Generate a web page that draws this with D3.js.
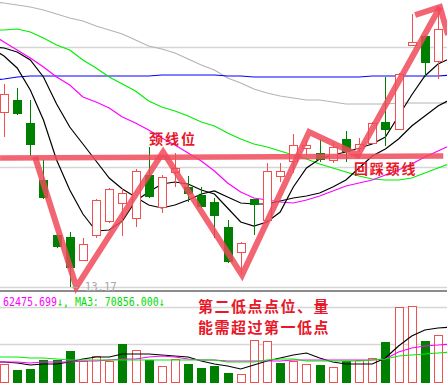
<!DOCTYPE html>
<html>
<head>
<meta charset="utf-8">
<script src="https://cdn.jsdelivr.net/npm/d3@7"></script>
<style>
  html, body { margin: 0; padding: 0; background: #fff; }
  svg { display: block; }
</style>
</head>
<body>
<div id="chart"></div>
<script>
// daily candles (34 sessions)
const openP  = [16.67, 16.91, 16.45, 15.31, 14.21, 14.17, 13.71, 14.21, 14.49, 14.85, 14.55, 15.41, 14.77, 15.47, 15.17, 15.01, 14.87, 14.37, 13.87, 14.93, 14.51, 15.39, 15.69, 15.95, 15.85, 15.71, 16.13, 15.95, 16.05, 16.47, 16.33, 18.01, 18.19, 17.69];
const highP  = [17.23, 17.15, 16.91, 15.71, 14.23, 14.27, 14.15, 14.93, 15.15, 15.15, 15.53, 15.97, 15.41, 15.85, 15.39, 15.17, 14.95, 14.51, 14.07, 14.93, 15.65, 15.65, 16.23, 16.11, 16.13, 16.07, 16.29, 16.15, 16.47, 17.37, 17.45, 18.63, 18.21, 18.75];
const lowP   = [16.17, 16.61, 15.79, 14.93, 13.95, 13.17, 13.69, 14.15, 14.45, 14.19, 14.37, 14.95, 14.65, 15.17, 14.87, 14.75, 14.15, 13.65, 13.41, 14.21, 14.49, 15.27, 15.45, 15.81, 15.67, 15.65, 15.67, 15.87, 16.03, 15.99, 16.31, 17.99, 17.37, 17.33];
const closeP = [17.03, 16.63, 16.01, 14.95, 13.97, 13.55, 14.03, 14.91, 15.13, 15.05, 15.49, 14.97, 15.37, 15.55, 15.03, 14.77, 14.59, 13.67, 14.05, 14.81, 15.49, 15.49, 16.01, 16.01, 15.71, 15.97, 15.87, 16.03, 16.45, 16.31, 17.43, 18.07, 17.65, 18.33];

// moving averages, sessions -1 .. 34 (lines run off both edges)
const ma5   = [17.95, 17.79, 17.55, 17.11, 16.51, 15.71, 15.11, 14.63, 14.29, 14.31, 14.49, 14.89, 15.07, 15.23, 15.27, 15.23, 15.11, 15.03, 14.75, 14.47, 14.39, 14.47, 14.67, 15.17, 15.55, 15.73, 15.81, 15.87, 15.95, 16.03, 16.17, 16.59, 17.01, 17.39, 17.63, 17.75];
const ma10  = [17.97, 17.95, 17.87, 17.71, 17.37, 16.83, 16.37, 16.03, 15.69, 15.35, 15.13, 14.97, 14.81, 14.75, 14.81, 14.91, 15.03, 15.09, 14.97, 14.85, 14.83, 14.83, 14.89, 14.95, 14.99, 15.05, 15.17, 15.31, 15.55, 15.79, 15.93, 16.13, 16.39, 16.59, 16.79, 16.93];
const ma20  = [18.23, 18.07, 17.91, 17.75, 17.57, 17.37, 17.21, 16.97, 16.87, 16.75, 16.57, 16.45, 16.31, 16.15, 16.01, 15.85, 15.69, 15.49, 15.25, 15.07, 14.95, 14.91, 14.87, 14.85, 14.91, 14.99, 15.09, 15.19, 15.25, 15.31, 15.41, 15.51, 15.63, 15.77, 15.89, 16.01];
const ma30  = [18.31, 18.31, 18.33, 18.27, 18.15, 18.01, 17.91, 17.71, 17.55, 17.37, 17.23, 17.09, 16.89, 16.77, 16.69, 16.59, 16.47, 16.39, 16.25, 16.13, 16.03, 15.97, 15.89, 15.81, 15.73, 15.63, 15.55, 15.47, 15.39, 15.33, 15.31, 15.31, 15.35, 15.45, 15.55, 15.65];
const ma60  = [17.31, 17.33, 17.37, 17.39, 17.39, 17.39, 17.39, 17.39, 17.39, 17.39, 17.39, 17.39, 17.39, 17.41, 17.41, 17.41, 17.41, 17.41, 17.39, 17.39, 17.37, 17.37, 17.37, 17.37, 17.37, 17.37, 17.37, 17.37, 17.37, 17.39, 17.39, 17.39, 17.39, 17.39, 17.39, 17.41];
const ma120 = [18.87, 18.85, 18.81, 18.77, 18.71, 18.63, 18.55, 18.49, 18.39, 18.31, 18.23, 18.11, 17.99, 17.93, 17.85, 17.73, 17.61, 17.51, 17.35, 17.25, 17.13, 17.05, 16.99, 16.95, 16.91, 16.91, 16.87, 16.83, 16.83, 16.83, 16.83, 16.85, 16.85, 16.85, 16.85, 16.85];

// volume and its averages
const volume = [32300, 22100, 23800, 39100, 39100, 54400, 37400, 45900, 37400, 66300, 56100, 39100, 28900, 40800, 32300, 25500, 28900, 17000, 15300, 73100, 71400, 34000, 37400, 32300, 30600, 27200, 37400, 39100, 42500, 69700, 129200, 130900, 71400, 81600];
const volUp  = [1, 0, 0, 0, 0, 0, 1, 1, 1, 0, 1, 0, 1, 1, 0, 0, 0, 0, 1, 1, 1, 0, 1, 1, 0, 1, 0, 1, 1, 0, 1, 1, 0, 1];
const volMa5  = [35700, 35700, 34000, 30600, 32300, 32300, 35700, 40800, 44200, 44200, 49300, 49300, 49300, 47600, 45900, 44200, 37400, 32300, 28900, 23800, 30600, 37400, 42500, 47600, 51000, 42500, 35700, 32300, 32300, 32300, 42500, 62900, 79900, 90100, 93500, 95200];
const volMa10 = [35700, 35700, 35700, 34000, 35700, 35700, 35700, 37400, 37400, 39100, 40800, 40800, 44200, 45900, 44200, 40800, 39100, 39100, 37400, 37400, 37400, 37400, 37400, 39100, 39100, 39100, 39100, 39100, 39100, 39100, 40800, 52700, 59500, 62900, 64600, 66300];
const volMa20 = [44200, 44200, 44200, 42500, 42500, 40800, 39100, 39100, 39100, 39100, 39100, 39100, 39100, 39100, 39100, 39100, 39100, 39100, 35700, 35700, 35700, 39100, 40800, 40800, 37400, 37400, 37400, 37400, 37400, 39100, 40800, 45900, 47600, 49300, 51000, 52700];

// grid levels
const priceGrid = [17.97, 15.57, 13.17];
const volGrid = [66300, 129200];

// hand-drawn pattern annotation (session index, price)
const neckIdx = [-0.3, 33.4];
const neckPrice = [15.75, 15.79];
const pathIdx = [2.36, 5.5, 12.1, 18.1, 23.2, 26.9, 33.15];
const pathPrice = [15.77, 13.17, 15.87, 13.41, 16.27, 15.81, 18.77];
const barbIdx = [31.26, 33.15, 33.76];
const barbPrice = [18.61, 18.77, 18.21];

const lowLabel = "\u2190 13.17";
const legendVal = "62475.699";
const legendRest = "\u2193, MA3: 70856.000\u2193";

const width = 447, height = 386;
const RED = "#f05050", GREEN = "#008000";

const svg = d3.select("#chart").append("svg")
    .attr("width", width)
    .attr("height", height)
    .style("background", "#fff");

const x = d3.scaleLinear().domain([0, 33]).range([4, 438]);
const y = d3.scaleLinear().domain([13.17, 18.91]).range([287, 0]);
const yv = d3.scaleLinear().domain([0, 130900]).range([383, 306]);

const defs = svg.append("defs");
defs.append("clipPath").attr("id", "mainClip")
  .append("rect").attr("x", 0).attr("y", 0).attr("width", width).attr("height", 290);
defs.append("clipPath").attr("id", "volClip")
  .append("rect").attr("x", 0).attr("y", 293).attr("width", width).attr("height", 93);

// grid lines
svg.append("g").selectAll("line")
  .data(priceGrid)
  .join("line")
    .attr("x1", 0).attr("x2", width)
    .attr("y1", d => Math.round(y(d)) + 0.5)
    .attr("y2", d => Math.round(y(d)) + 0.5)
    .attr("stroke", "#d6d6d6")
    .attr("stroke-width", 1.5);

svg.append("g").selectAll("line")
  .data(volGrid)
  .join("line")
    .attr("x1", 0).attr("x2", width)
    .attr("y1", d => Math.round(yv(d)) + 0.5)
    .attr("y2", d => Math.round(yv(d)) + 0.5)
    .attr("stroke", "#d6d6d6")
    .attr("stroke-width", 1.5);

// pane separator
svg.append("line")
    .attr("x1", 0).attr("x2", width)
    .attr("y1", 291).attr("y2", 291)
    .attr("stroke", "#8c8c8c")
    .attr("stroke-width", 2);

// moving averages in price pane
const maLine = d3.line()
    .x((d, i) => x(i - 1))
    .y(d => y(d));

const maSeries = [
  { values: ma120, color: "#b4b4b4" },
  { values: ma60, color: "#0000ff" },
  { values: ma30, color: "#00ee00" },
  { values: ma20, color: "#ff00ff" },
  { values: ma10, color: "#000000" },
  { values: ma5, color: "#000000" }
];

const mainG = svg.append("g").attr("clip-path", "url(#mainClip)");

mainG.selectAll("path.ma")
  .data(maSeries)
  .join("path")
    .attr("class", "ma")
    .attr("fill", "none")
    .attr("stroke", d => d.color)
    .attr("stroke-width", 1.2)
    .attr("d", d => maLine(d.values));

// candles
const candles = d3.range(openP.length).map(i => ({
  i: i,
  o: openP[i], h: highP[i], l: lowP[i], c: closeP[i],
  up: closeP[i] >= openP[i]
}));

const cg = mainG.selectAll("g.candle")
  .data(candles)
  .join("g")
    .attr("class", "candle");

cg.each(function(d) {
  const g = d3.select(this);
  const cx = Math.round(x(d.i)) + 0.5;
  const top = Math.round(y(Math.max(d.o, d.c)));
  const bot = Math.round(y(Math.min(d.o, d.c)));
  const hi = Math.round(y(d.h));
  const lo = Math.round(y(d.l));
  if (d.up) {
    g.append("line").attr("x1", cx).attr("x2", cx).attr("y1", hi).attr("y2", top)
      .attr("stroke", RED);
    g.append("line").attr("x1", cx).attr("x2", cx).attr("y1", bot).attr("y2", lo)
      .attr("stroke", RED);
    g.append("rect")
      .attr("x", cx - 4).attr("y", top + 0.5)
      .attr("width", 8).attr("height", Math.max(bot - top, 1))
      .attr("fill", "#fff").attr("stroke", RED);
  } else {
    g.append("line").attr("x1", cx).attr("x2", cx).attr("y1", hi).attr("y2", lo)
      .attr("stroke", GREEN);
    g.append("rect")
      .attr("x", cx - 4.5).attr("y", top)
      .attr("width", 9).attr("height", Math.max(bot - top, 1))
      .attr("fill", GREEN);
  }
});

// volume bars
const vg = svg.append("g");
vg.selectAll("rect")
  .data(volume)
  .join("rect")
    .attr("x", (d, i) => volUp[i] ? Math.round(x(i)) - 3.5 : Math.round(x(i)) - 4)
    .attr("y", (d, i) => volUp[i] ? Math.round(yv(d)) + 0.5 : Math.round(yv(d)))
    .attr("width", (d, i) => volUp[i] ? 8 : 9)
    .attr("height", (d, i) => volUp[i] ? 382 - Math.round(yv(d)) : 383 - Math.round(yv(d)))
    .attr("fill", (d, i) => volUp[i] ? "#fff" : GREEN)
    .attr("stroke", (d, i) => volUp[i] ? RED : "none");

const volLine = d3.line()
    .x((d, i) => x(i - 1))
    .y(d => yv(d));

svg.append("g").attr("clip-path", "url(#volClip)")
  .selectAll("path")
  .data([
    { values: volMa5, color: "#000000" },
    { values: volMa10, color: "#ff00ff" },
    { values: volMa20, color: "#00ee00" }
  ])
  .join("path")
    .attr("fill", "none")
    .attr("stroke", d => d.color)
    .attr("stroke-width", 1.2)
    .attr("d", d => volLine(d.values));

// pattern annotation
const anno = svg.append("g")
    .attr("fill", "none")
    .attr("stroke", "#f04a5a")
    .attr("stroke-opacity", 0.85)
    .attr("stroke-width", 6)
    .attr("stroke-linejoin", "miter");

const xyLine = d3.line().x(d => x(d[0])).y(d => y(d[1]));

anno.append("path")
    .attr("d", xyLine(d3.zip(neckIdx, neckPrice)))
    .attr("stroke-width", 5.5);
anno.append("path")
    .attr("d", xyLine(d3.zip(pathIdx, pathPrice)));
anno.append("path")
    .attr("d", xyLine(d3.zip(barbIdx, barbPrice)));

// labels
const cjk = "'Noto Sans CJK SC', sans-serif";
const labels = [
  { text: "颈线位", x: 149, y: 143.5, size: 14, ls: 2 },
  { text: "回踩颈线", x: 354, y: 173.5, size: 14, ls: 1.8 },
  { text: "第二低点点位、量", x: 198, y: 311.5, size: 15, ls: 1.5 },
  { text: "能需超过第一低点", x: 198, y: 332.5, size: 15, ls: 1.5 }
];

svg.append("g").selectAll("text")
  .data(labels)
  .join("text")
    .attr("x", d => d.x)
    .attr("y", d => d.y)
    .attr("fill", "#e8182a")
    .style("font-family", cjk)
    .style("font-weight", "bold")
    .style("font-size", d => d.size + "px")
    .style("letter-spacing", d => d.ls + "px")
    .text(d => d.text);

svg.append("text")
    .attr("transform", "translate(72,290.5) scale(0.85,1)")
    .attr("fill", "#a8a8a8")
    .style("font-family", "'DejaVu Sans Mono', monospace")
    .style("font-size", "12.5px")
    .text(lowLabel);

const legend = svg.append("text")
    .attr("transform", "translate(3,305.5) scale(0.83,1)")
    .style("font-family", "'DejaVu Sans Mono', monospace")
    .style("font-size", "12px");
legend.append("tspan").attr("fill", "#ff00ff").text(legendVal);
legend.append("tspan").attr("fill", "#00dd00").text(legendRest);
</script>
</body>
</html>
